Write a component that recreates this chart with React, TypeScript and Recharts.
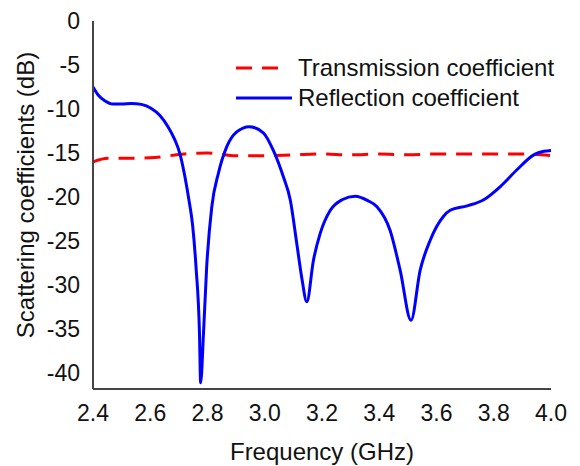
import { LineChart, Line, XAxis, YAxis, Legend, Label } from 'recharts'

const reflFreq = [
  2.4, 2.418, 2.441, 2.47, 2.499, 2.534, 2.569, 2.604, 2.633, 2.662, 2.686, 2.703, 2.72, 2.735,
  2.748, 2.76, 2.772, 2.776, 2.786, 2.797, 2.815, 2.838, 2.867, 2.902, 2.946, 2.995, 3.03, 3.065,
  3.089, 3.112, 3.129, 3.147, 3.17, 3.194, 3.229, 3.27, 3.316, 3.36, 3.392, 3.438, 3.473, 3.511,
  3.543, 3.578, 3.624, 3.648, 3.707, 3.765, 3.823, 3.881, 3.94, 3.975, 4.0,
]
const reflection = [
  -7.5, -8.4, -9.05, -9.43, -9.43, -9.36, -9.47, -9.93, -10.7, -12.0, -13.5, -15.0, -17.5, -20.3,
  -23.2, -28, -35.5, -41.1, -35.5, -28, -21.1, -17.3, -14.3, -12.6, -12.0, -12.7, -14.7, -17.7,
  -20.3, -25.3, -29.1, -31.9, -27.2, -24.1, -21.5, -20.3, -19.9, -20.4, -21.1, -23.8, -28.3, -34.0,
  -28.3, -24.9, -22.2, -21.5, -21.0, -20.3, -18.8, -16.9, -15.2, -14.8, -14.7,
]

const transFreq = [2.4, 2.452, 2.52, 2.616, 2.72, 2.8, 2.9, 3.0, 3.1, 3.2, 3.3, 3.4, 3.5, 3.6, 3.7, 3.8, 3.9, 4.0]
const transmission = [
  -16.0, -15.6, -15.6, -15.5, -15.1, -15.0, -15.3, -15.3, -15.2, -15.1, -15.2, -15.1, -15.2, -15.1,
  -15.1, -15.1, -15.1, -15.3,
]

const xTicks = [2.4, 2.6, 2.8, 3.0, 3.2, 3.4, 3.6, 3.8, 4.0]
const yTicks = [0, -5, -10, -15, -20, -25, -30, -35, -40]

const reflData = reflFreq.map((f, i) => ({ f, v: reflection[i] }))
const transData = transFreq.map((f, i) => ({ f, v: transmission[i] }))

const FONT = '"Liberation Sans", Arial, sans-serif'
const AXIS = '#444'
const tickStyle = { fontSize: 23, fill: '#111', fontFamily: FONT }
const titleStyle = { fontSize: 24, fill: '#111', fontFamily: FONT }

function LegendBox() {
  const rows = [
    { name: 'Transmission coefficient', color: '#ff0000', dash: '16 10', len: 42 },
    { name: 'Reflection coefficient', color: '#0000ff', dash: undefined, len: 56 },
  ]
  return (
    <div style={{ fontFamily: FONT, fontSize: 24, color: '#111' }}>
      {rows.map((r) => (
        <div key={r.name} style={{ display: 'flex', alignItems: 'center', height: 30, whiteSpace: 'nowrap' }}>
          <svg width={62} height={30}>
            <line x1={0} y1={15} x2={r.len} y2={15} stroke={r.color} strokeWidth={3} strokeDasharray={r.dash} />
          </svg>
          <span>{r.name}</span>
        </div>
      ))}
    </div>
  )
}

function YTitle(props: any) {
  const vb = props.viewBox || { x: 0, y: 0, width: 0, height: 0 }
  const cx = vb.x + 25
  const cy = vb.y + vb.height / 2 - 10
  return (
    <text
      x={cx}
      y={cy}
      transform={`rotate(-90 ${cx} ${cy})`}
      textAnchor="middle"
      dominantBaseline="central"
      style={titleStyle}
    >
      Scattering coefficients (dB)
    </text>
  )
}

export default function App() {
  return (
    <div style={{ position: 'absolute', left: 0, top: 0, width: 580, height: 466, background: '#fff' }}>
      <LineChart width={580} height={466} margin={{ top: 21, right: 29, left: 0, bottom: 0 }}>
        <XAxis
          dataKey="f"
          type="number"
          domain={[2.4, 4.0]}
          ticks={xTicks}
          tickFormatter={(v: number) => v.toFixed(1)}
          tick={tickStyle}
          tickLine={false}
          tickMargin={10}
          axisLine={{ stroke: AXIS, strokeWidth: 2 }}
          height={77}
          allowDuplicatedCategory={false}
        >
          <Label value="Frequency (GHz)" position="insideBottom" offset={6} style={titleStyle} />
        </XAxis>
        <YAxis
          type="number"
          domain={[-41.8, 0]}
          ticks={yTicks}
          tick={tickStyle}
          tickLine={false}
          tickMargin={7}
          width={93}
          axisLine={{ stroke: AXIS, strokeWidth: 2 }}
          allowDataOverflow
        >
          <Label content={<YTitle />} />
        </YAxis>
        <Legend
          layout="vertical"
          align="center"
          verticalAlign="middle"
          content={<LegendBox />}
          wrapperStyle={{ position: 'absolute', left: 236, top: 53, width: 340 }}
        />
        <Line
          data={transData}
          dataKey="v"
          name="Transmission coefficient"
          type="monotone"
          stroke="#ff0000"
          strokeWidth={3}
          strokeDasharray="16 10"
          dot={false}
          isAnimationActive={false}
        />
        <Line
          data={reflData}
          dataKey="v"
          name="Reflection coefficient"
          type="monotone"
          stroke="#0000ff"
          strokeWidth={3}
          dot={false}
          isAnimationActive={false}
        />
      </LineChart>
    </div>
  )
}
